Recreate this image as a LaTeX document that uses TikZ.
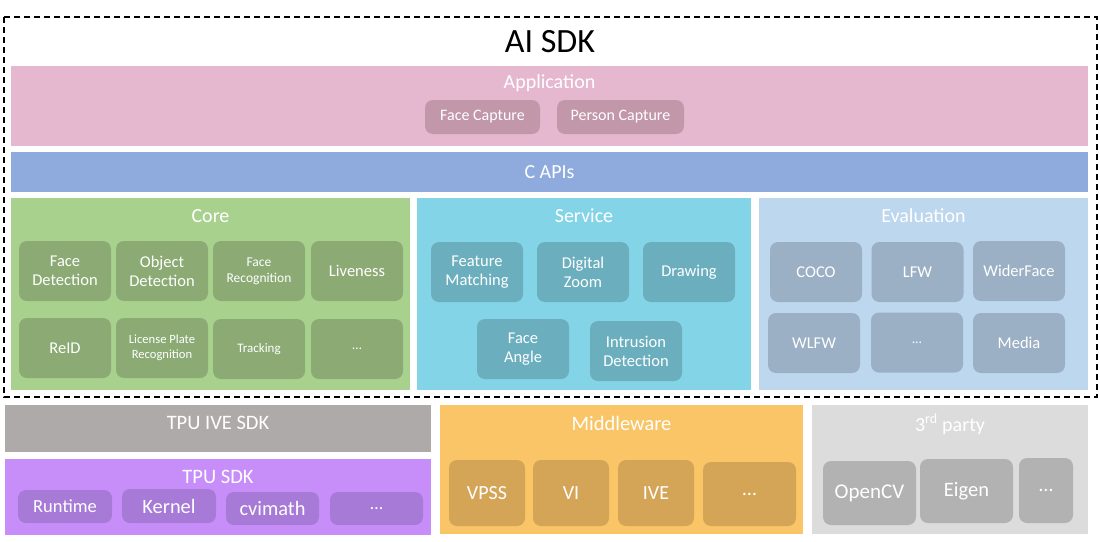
\documentclass[tikz,border=0pt]{standalone}
\usepackage{fontspec}
\setmainfont{Carlito}
\usepackage{tikz}

\definecolor{appbg}{HTML}{E6B8D0}
\definecolor{appit}{HTML}{C297A9}
\definecolor{apibg}{HTML}{8FAADC}
\definecolor{corebg}{HTML}{A9D18E}
\definecolor{coreit}{HTML}{8BAA74}
\definecolor{srvbg}{HTML}{83D4E6}
\definecolor{srvit}{HTML}{6BAFBF}
\definecolor{evalbg}{HTML}{BDD7EE}
\definecolor{evalit}{HTML}{9BB0C4}
\definecolor{ivebg}{HTML}{AEAAAA}
\definecolor{tpubg}{HTML}{C78EFA}
\definecolor{tpuit}{HTML}{A67AD6}
\definecolor{midbg}{HTML}{F9C566}
\definecolor{midit}{HTML}{D4A557}
\definecolor{thirdbg}{HTML}{DCDCDC}
\definecolor{thirdit}{HTML}{B2B2B2}

\begin{document}
\begin{tikzpicture}[x=1pt, y=-1pt,
    layer/.style={inner sep=0pt, minimum width=#1},
    item/.style={rounded corners=8pt, inner sep=0pt, text=white, align=center, minimum width=92pt, minimum height=60pt},
    ttl/.style={text=white, font=\fontsize{20}{22}\selectfont},
    lbl/.style={font=\fontsize{16.5}{19}\selectfont},
    small/.style={font=\fontsize{13.5}{16}\selectfont}]
				% Define canvas
				\useasboundingbox (0,0) rectangle (1100,541);
				
				% AI SDK frame
				\draw[dash pattern=on 6pt off 4pt, line width=1.3pt] (4,17) rectangle (1097,397);
				\node (aisdk) at (550,42) {\fontsize{34}{36}\selectfont AI SDK};
				
				% Application
				\node[layer=1077pt, fill=appbg, minimum height=80pt] (app) at (549.5,106) {};
				\node[ttl] (apptitle) at (549.5,83) {Application};
				\node[item, fill=appit, minimum width=115pt, minimum height=34pt, font=\fontsize{16}{18}\selectfont] (facecap) at (482.5,117) {Face Capture};
				\node[item, fill=appit, minimum width=127pt, minimum height=34pt, font=\fontsize{16}{18}\selectfont] (personcap) at (620.5,117) {Person Capture};
				
				% C APIs
				\node[layer=1077pt, fill=apibg, minimum height=40pt, ttl] (capi) at (549.5,172) {C APIs};
				
				% Core
				\node[layer=399pt, fill=corebg, minimum height=192pt] (core) at (210.5,294) {};
				\node[ttl] (coretitle) at (210.5,216) {Core};
				\node[item, fill=coreit, lbl] (facedet) at (65,271) {Face\\Detection};
				\node[item, fill=coreit, lbl] (objdet) at (162,271) {Object\\Detection};
				\node[item, fill=coreit, small] (facerec) at (259,271) {Face\\Recognition};
				\node[item, fill=coreit, lbl] (liveness) at (357,271) {Liveness};
				\node[item, fill=coreit, lbl] (reid) at (65,348) {ReID};
				\node[item, fill=coreit, font=\fontsize{12.6}{15}\selectfont] (lpr) at (162,348) {License Plate\\Recognition};
				\node[item, fill=coreit, font=\fontsize{13}{15}\selectfont] (tracking) at (259,349) {Tracking};
				\node[item, fill=coreit, small] (coremore) at (357,349) {…};
				
				% Service
				\node[layer=334pt, fill=srvbg, minimum height=192pt] (service) at (584,294) {};
				\node[ttl] (srvtitle) at (584,216) {Service};
				\node[item, fill=srvit, lbl] (featmatch) at (477,272) {Feature\\Matching};
				\node[item, fill=srvit, lbl] (digzoom) at (583,272) {Digital\\Zoom};
				\node[item, fill=srvit, lbl] (drawing) at (689,272) {Drawing};
				\node[item, fill=srvit, lbl] (faceangle) at (523,349) {Face\\Angle};
				\node[item, fill=srvit, lbl] (intrusion) at (636,351) {Intrusion\\Detection};
				
				% Evaluation
				\node[layer=329pt, fill=evalbg, minimum height=192pt] (eval) at (923.5,294) {};
				\node[ttl] (evaltitle) at (923.5,216) {Evaluation};
				\node[item, fill=evalit, lbl] (coco) at (816,272) {COCO};
				\node[item, fill=evalit, lbl] (lfw) at (917.5,272) {LFW};
				\node[item, fill=evalit, lbl] (widerface) at (1019,271) {WiderFace};
				\node[item, fill=evalit, lbl] (wlfw) at (814,343) {WLFW};
				\node[item, fill=evalit, small] (evalmore) at (917,342.5) {…};
				\node[item, fill=evalit, lbl] (media) at (1019,343) {Media};
				
				% TPU IVE SDK
				\node[layer=426pt, fill=ivebg, minimum height=47pt] (ivesdk) at (218,428.5) {};
				\node[text=white, font=\fontsize{20.5}{22}\selectfont] (ivetitle) at (218,423) {TPU IVE SDK};
				
				% TPU SDK
				\node[layer=426pt, fill=tpubg, minimum height=76pt] (tpusdk) at (218,497) {};
				\node[text=white, font=\fontsize{20.5}{22}\selectfont] (tputitle) at (218,477) {TPU SDK};
				\node[item, fill=tpuit, minimum width=94pt, minimum height=33pt, font=\fontsize{18.5}{20}\selectfont] (runtime) at (65,506.5) {Runtime};
				\node[item, fill=tpuit, minimum width=94pt, minimum height=34pt, font=\fontsize{20.4}{22}\selectfont] (kernel) at (169,506) {Kernel};
				\node[item, fill=tpuit, minimum width=93pt, minimum height=33pt, font=\fontsize{20.4}{22}\selectfont] (cvimath) at (272.5,508.5) {cvimath};
				\node[item, fill=tpuit, minimum width=93pt, minimum height=33pt, font=\fontsize{18}{20}\selectfont] (tpumore) at (376.5,508.5) {…};
				
				% Middleware
				\node[layer=363pt, fill=midbg, minimum height=129pt] (middle) at (621.5,469.5) {};
				\node[ttl, font=\fontsize{20.5}{22}\selectfont] (midtitle) at (621.5,423) {Middleware};
				\node[item, fill=midit, minimum width=76pt, minimum height=66pt, font=\fontsize{20}{22}\selectfont] (vpss) at (487,493) {VPSS};
				\node[item, fill=midit, minimum width=76pt, minimum height=66pt, font=\fontsize{20}{22}\selectfont] (vi) at (571,493) {VI};
				\node[item, fill=midit, minimum width=76pt, minimum height=66pt, font=\fontsize{20}{22}\selectfont] (ive) at (656,493) {IVE};
				\node[item, fill=midit, minimum width=93pt, minimum height=64pt, font=\fontsize{20}{22}\selectfont] (midmore) at (749.5,494) {…};
				
				% 3rd party
				\node[layer=276pt, fill=thirdbg, minimum height=129pt] (third) at (950,469.5) {};
				\node[ttl] (thirdtitle) at (950,424) {3\textsuperscript{rd} party};
				\node[item, fill=thirdit, minimum width=93pt, minimum height=64pt, font=\fontsize{21}{23}\selectfont] (opencv) at (869.5,493) {OpenCV};
				\node[item, fill=thirdit, minimum width=93pt, minimum height=64pt, font=\fontsize{20.5}{22}\selectfont] (eigen) at (966.5,491) {Eigen};
				\node[item, fill=thirdit, minimum width=54pt, minimum height=65pt, font=\fontsize{20}{22}\selectfont] (thirdmore) at (1046,490.5) {…};
			\end{tikzpicture}
\end{document}
